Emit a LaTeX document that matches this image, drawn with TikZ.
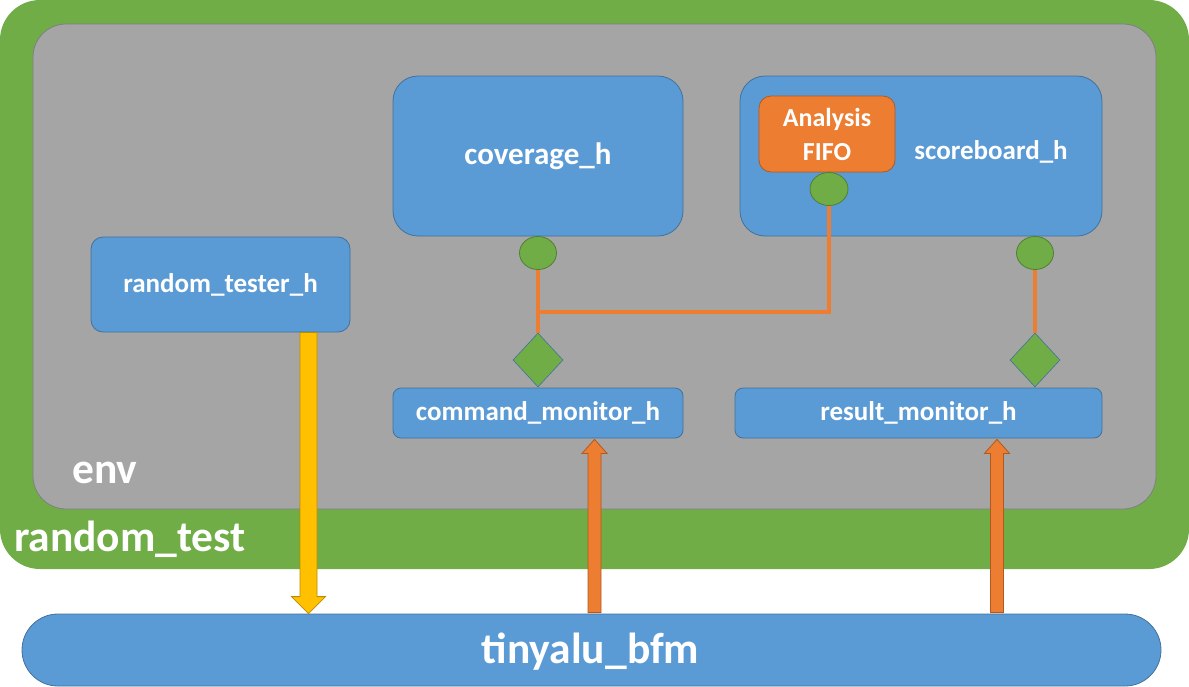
\documentclass[tikz,border=0pt]{standalone}
\usepackage{fontspec}
\setmainfont{Carlito}
\usetikzlibrary{shapes.geometric,calc}
\definecolor{tgreen}{HTML}{70AD47}
\definecolor{tgreenb}{HTML}{507E32}
\definecolor{tgray}{HTML}{A5A5A5}
\definecolor{tgrayb}{HTML}{7F7F7F}
\definecolor{tblue}{HTML}{5B9BD5}
\definecolor{tblueb}{HTML}{41719C}
\definecolor{torange}{HTML}{ED7D31}
\definecolor{torangeb}{HTML}{AE5A21}
\definecolor{tyellow}{HTML}{FFC000}
\definecolor{tyellowb}{HTML}{BC8C00}
\tikzset{
  box/.style={rectangle, inner sep=0pt, text=white, font=\bfseries\fontsize{27}{32}\selectfont, align=center},
  bluebox/.style={box, fill=tblue, draw=tblueb, line width=0.8pt},
  port/.style={ellipse, inner sep=0pt, fill=tgreen, draw=tgreenb, line width=0.8pt, minimum width=37pt, minimum height=33pt},
  export/.style={diamond, inner sep=0pt, fill=tgreen, draw=tblueb, line width=0.6pt, minimum width=50pt, minimum height=54pt},
  conn/.style={draw=torange, line width=4pt},
  bigtext/.style={text=white, inner sep=0pt, font=\bfseries\fontsize{43.5}{50}\selectfont},
  yarrow/.style={fill=tyellow, draw=tyellowb, line width=0.8pt},
  oarrow/.style={fill=torange, draw=torangeb, line width=0.8pt},
}
\begin{document}
\begin{tikzpicture}[x=1pt, y=-1pt]
\useasboundingbox (0,0) rectangle (1189,686);
% outer test
\node[box, fill=tgreen, rounded corners=40pt, minimum width=1189pt, minimum height=569pt] (test) at (594.5,284.5) {};
\node[bigtext, anchor=base west] (testlbl) at (14,551) {random\_test};
% env
\node[box, fill=tgray, draw=tgrayb, line width=0.8pt, rounded corners=33pt, minimum width=1123pt, minimum height=485pt] (env) at (594.5,266.5) {};
\node[bigtext, anchor=base west] (envlbl) at (72,483) {env};
% components
\node[bluebox, rounded corners=25pt, minimum width=290pt, minimum height=160pt, font=\bfseries\fontsize{31}{36}\selectfont] (cov) at (538,156) {coverage\_h};
\node[bluebox, rounded corners=25pt, minimum width=362pt, minimum height=160pt] (sb) at (921,156) {};
\node[box] (sblbl) at (991,152) {scoreboard\_h};
\node[box, fill=torange, draw=torangeb, line width=0.8pt, rounded corners=12pt, minimum width=136pt, minimum height=76pt, font=\bfseries\fontsize{26}{34}\selectfont] (fifo) at (827,134) {Analysis\\FIFO};
\node[bluebox, rounded corners=12pt, minimum width=259pt, minimum height=95pt] (rt) at (220.5,284.5) {random\_tester\_h};
\node[bluebox, rounded corners=8pt, minimum width=290pt, minimum height=50pt] (cm) at (538,413) {command\_monitor\_h};
\node[bluebox, rounded corners=8pt, minimum width=367pt, minimum height=50pt] (rm) at (918.5,413) {result\_monitor\_h};
\node[bluebox, rounded corners=36pt, minimum width=1139pt, minimum height=72pt] (bfm) at (591.5,650) {};
\node[bigtext] (bfmlbl) at (590.5,652) {tinyalu\_bfm};
% ports and exports
\coordinate (jy) at (0,312);
\node[port] (e1) at (538,253) {};
\node[port, minimum width=38pt] (e2) at (829,189) {};
\node[port] (e3) at (1035,253) {};
\node[export] (d1) at (538,360) {};
\node[export] (d2) at (1035,360) {};
% connectors
\path[conn] (e1.south) -- (d1.north);
\path[conn] (e2.south) -- (e2.south |- jy) -- (jy -| e1.south);
\path[conn] (e3.south) -- (d2.north);
% block arrows
\coordinate (yx) at (308.5,0);
\coordinate (ox1) at (594.5,0);
\coordinate (ox2) at (997,0);
\draw[yarrow] ($(rt.south -| yx)+(-8.5,0)$) -- ($(rt.south -| yx)+(8.5,0)$)
  -- ($(bfm.north -| yx)+(8.5,-17)$) -- ($(bfm.north -| yx)+(17,-17)$) -- (bfm.north -| yx)
  -- ($(bfm.north -| yx)+(-17,-17)$) -- ($(bfm.north -| yx)+(-8.5,-17)$) -- cycle;
\draw[oarrow] ($(bfm.north -| ox1)+(-6.5,-1)$) -- ($(bfm.north -| ox1)+(6.5,-1)$)
  -- ($(cm.south -| ox1)+(6.5,15)$) -- ($(cm.south -| ox1)+(12.5,15)$) -- ($(cm.south -| ox1)+(0,1)$)
  -- ($(cm.south -| ox1)+(-12.5,15)$) -- ($(cm.south -| ox1)+(-6.5,15)$) -- cycle;
\draw[oarrow] ($(bfm.north -| ox2)+(-6.5,-1)$) -- ($(bfm.north -| ox2)+(6.5,-1)$)
  -- ($(rm.south -| ox2)+(6.5,15)$) -- ($(rm.south -| ox2)+(12.5,15)$) -- ($(rm.south -| ox2)+(0,1)$)
  -- ($(rm.south -| ox2)+(-12.5,15)$) -- ($(rm.south -| ox2)+(-6.5,15)$) -- cycle;
\end{tikzpicture}
\end{document}
